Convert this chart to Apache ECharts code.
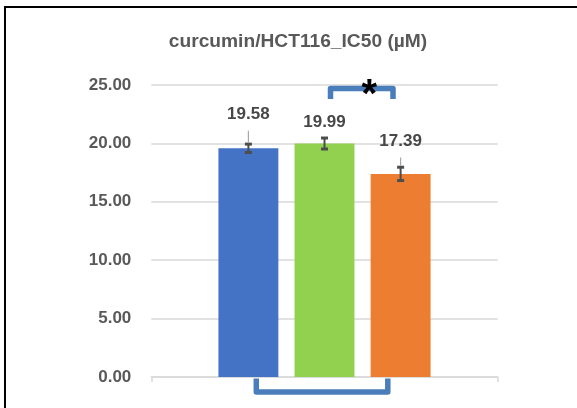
<!DOCTYPE html>
<html><head><meta charset="utf-8">
<script src="https://cdn.jsdelivr.net/npm/echarts@6/dist/echarts.min.js"></script>
<style>html,body{margin:0;padding:0;background:#fff}#c{width:577px;height:408px}</style>
</head><body><div id="c"></div>
<script>
// ---- data ----
const titleText = 'curcumin/HCT116_IC50 (µM)';
const categories = ['curcumin/HCT116'];
const seriesNames = ['Group 1', 'Group 2', 'Group 3'];
const values = [19.58, 19.99, 17.39];
const errors = [0.36, 0.47, 0.57];
const yMin = 0, yMax = 25, yInterval = 5;

// ---- style ----
const FONT = 'Liberation Sans, Arial, sans-serif';
const colors = ['#4472c4', '#92d050', '#ed7d31'];
const labelDistance = [25, 12.5, 24];
const showLeader = [true, false, true];
const BAR_W = 0.173, BAR_GAP = 0.27;

const chart = echarts.init(document.getElementById('c'), null, {renderer: 'canvas'});

const barSeries = values.map((v, i) => ({
  type: 'bar',
  name: seriesNames[i],
  data: [v],
  barWidth: (BAR_W * 100) + '%',
  barGap: (BAR_GAP * 100) + '%',
  itemStyle: {color: colors[i]},
  label: {
    show: true, position: 'top', distance: labelDistance[i],
    formatter: p => p.value.toFixed(2),
    fontSize: 17, fontWeight: 'bold', color: '#474747', fontFamily: FONT
  },
  z: 2
}));

const errSeries = {
  type: 'custom',
  name: 'error',
  data: values.map((v, i) => [0, v, errors[i], i]),
  z: 5,
  silent: true,
  renderItem: (params, api) => {
    const idx = api.value(3), v = api.value(1), e = api.value(2);
    const band = api.size([1, 0])[0];
    const bw = band * BAR_W;
    const c = api.coord([0, v]);
    const x = c[0] + (idx - 1) * bw * (1 + BAR_GAP);
    const yT = api.coord([0, v + e])[1];
    const yB = api.coord([0, v - e])[1];
    const cap = 3.5;
    const children = [
      {type: 'line', shape: {x1: x, y1: yT, x2: x, y2: yB}, style: {stroke: '#4d4d4d', lineWidth: 2}},
      {type: 'line', shape: {x1: x - cap, y1: yT, x2: x + cap, y2: yT}, style: {stroke: '#4d4d4d', lineWidth: 3}},
      {type: 'line', shape: {x1: x - cap, y1: yB, x2: x + cap, y2: yB}, style: {stroke: '#4d4d4d', lineWidth: 3}}
    ];
    if (showLeader[idx]) {
      const yEnd = c[1] - labelDistance[idx] + 7.5;
      children.push({type: 'line', shape: {x1: x, y1: yT - 1.5, x2: x, y2: yEnd}, style: {stroke: '#a6a6a6', lineWidth: 1.2}});
    }
    return {type: 'group', children};
  }
};

chart.setOption({
  animation: false,
  backgroundColor: '#fff',
  title: {
    text: titleText, left: 293, top: 27, textAlign: 'center',
    textStyle: {fontSize: 19.2, fontWeight: 'bold', color: '#595959', fontFamily: FONT}
  },
  grid: {left: 151.3, right: 79.3, top: 85, bottom: 31},
  xAxis: {
    type: 'category', data: categories,
    axisLine: {lineStyle: {color: '#d9d9d9', width: 1.5}},
    axisTick: {show: true, length: 5, lineStyle: {color: '#d9d9d9', width: 1.5}},
    axisLabel: {show: false}
  },
  yAxis: {
    type: 'value', min: yMin, max: yMax, interval: yInterval,
    axisLine: {show: false}, axisTick: {show: false},
    splitLine: {lineStyle: {color: '#d9d9d9', width: 1.5}},
    axisLabel: {formatter: v => v.toFixed(2), fontSize: 17, fontWeight: 'bold', color: '#595959', margin: 20, fontFamily: FONT}
  },
  series: [...barSeries, errSeries],
  graphic: [
    {type: 'polyline', shape: {points: [[5, 410], [5, 7], [580, 7]]}, style: {stroke: '#000', lineWidth: 2, fill: null}, z: 10},
    {type: 'polyline', shape: {points: [[330.5, 99], [330.5, 88.5], [393, 88.5], [393, 99]]},
     style: {stroke: '#4a7ebb', lineWidth: 5.5, lineJoin: 'round', fill: null}, z: 10},
    {type: 'polyline', shape: {points: [[256.3, 378.5], [256.3, 392], [387.8, 392], [387.8, 378.5]]},
     style: {stroke: '#4a7ebb', lineWidth: 5.5, lineJoin: 'round', fill: null}, z: 10},
    {type: 'text', x: 369.3, y: 96, z: 11,
     style: {text: '*', fill: '#000', font: 'bold 40px Liberation Sans, Arial, sans-serif', textAlign: 'center', textVerticalAlign: 'middle'}}
  ]
});
</script>
</body></html>
